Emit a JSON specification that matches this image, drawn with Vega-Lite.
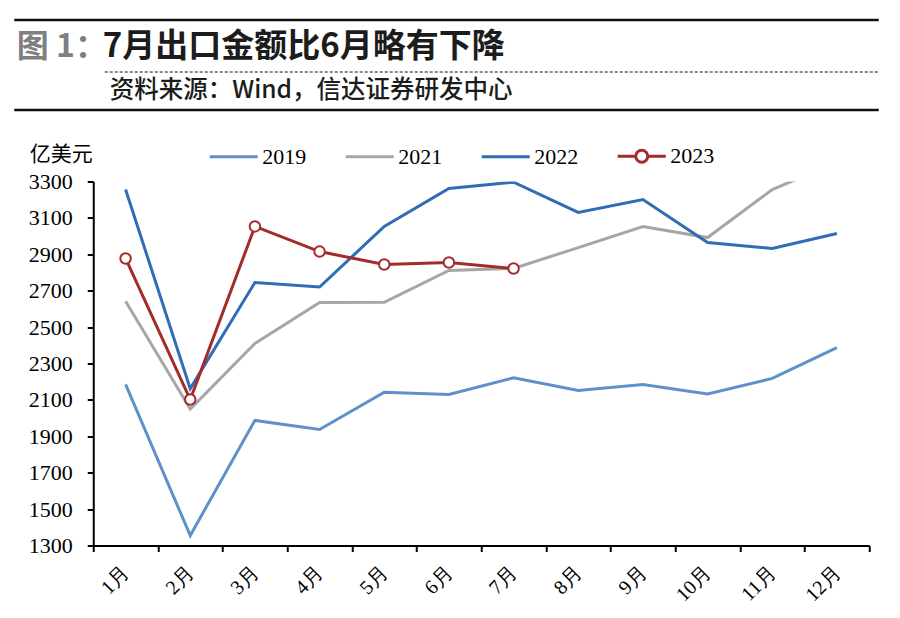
{
  "$schema": "https://vega.github.io/schema/vega-lite/v6.json",
  "width": 776,
  "height": 364,
  "padding": {"left": 16.25, "top": 19.5, "right": 16, "bottom": 6},
  "background": "white",
  "config": {
    "view": {"stroke": null},
    "font": "Liberation Serif",
    "axis": {"labelFont": "Liberation Serif", "labelFontWeight": "normal"},
    "axisX": {"labelFont": "Liberation Serif"},
    "axisY": {"labelFont": "Liberation Serif"}
  },
  "data": {
    "values": [
      {"year": "2019", "month": "1月", "value": 2185},
      {"year": "2019", "month": "2月", "value": 1355},
      {"year": "2019", "month": "3月", "value": 1987},
      {"year": "2019", "month": "4月", "value": 1937},
      {"year": "2019", "month": "5月", "value": 2142},
      {"year": "2019", "month": "6月", "value": 2130},
      {"year": "2019", "month": "7月", "value": 2221},
      {"year": "2019", "month": "8月", "value": 2152},
      {"year": "2019", "month": "9月", "value": 2185},
      {"year": "2019", "month": "10月", "value": 2132},
      {"year": "2019", "month": "11月", "value": 2218},
      {"year": "2019", "month": "12月", "value": 2387},
      {"year": "2021", "month": "1月", "value": 2642},
      {"year": "2021", "month": "2月", "value": 2050},
      {"year": "2021", "month": "3月", "value": 2410},
      {"year": "2021", "month": "4月", "value": 2635},
      {"year": "2021", "month": "5月", "value": 2636},
      {"year": "2021", "month": "6月", "value": 2811},
      {"year": "2021", "month": "7月", "value": 2822},
      {"year": "2021", "month": "8月", "value": 2937},
      {"year": "2021", "month": "9月", "value": 3053},
      {"year": "2021", "month": "10月", "value": 2992},
      {"year": "2021", "month": "11月", "value": 3256},
      {"year": "2021", "month": "12月", "value": 3405},
      {"year": "2022", "month": "1月", "value": 3256},
      {"year": "2022", "month": "2月", "value": 2162},
      {"year": "2022", "month": "3月", "value": 2745},
      {"year": "2022", "month": "4月", "value": 2720},
      {"year": "2022", "month": "5月", "value": 3053},
      {"year": "2022", "month": "6月", "value": 3262},
      {"year": "2022", "month": "7月", "value": 3296},
      {"year": "2022", "month": "8月", "value": 3130},
      {"year": "2022", "month": "9月", "value": 3201},
      {"year": "2022", "month": "10月", "value": 2965},
      {"year": "2022", "month": "11月", "value": 2932},
      {"year": "2022", "month": "12月", "value": 3014},
      {"year": "2023", "month": "1月", "value": 2877},
      {"year": "2023", "month": "2月", "value": 2102},
      {"year": "2023", "month": "3月", "value": 3053},
      {"year": "2023", "month": "4月", "value": 2915},
      {"year": "2023", "month": "5月", "value": 2844},
      {"year": "2023", "month": "6月", "value": 2855},
      {"year": "2023", "month": "7月", "value": 2822}
    ]
  },
  "resolve": {"scale": {"x": "independent"}, "axis": {"x": "independent"}},
  "layer": [
    {
      "encoding": {
        "x": {
          "field": "month",
          "type": "ordinal",
          "sort": ["1月", "2月", "3月", "4月", "5月", "6月", "7月", "8月", "9月", "10月", "11月", "12月"],
          "scale": {"type": "band", "paddingInner": 0, "paddingOuter": 0},
          "axis": {
            "title": null,
            "orient": "bottom",
            "tickBand": "extent",
            "grid": false,
            "domainColor": "black",
            "domainWidth": 2,
            "tickColor": "black",
            "tickWidth": 2,
            "tickSize": 6,
            "labelAngle": -45,
            "labelAlign": "right",
            "labelBaseline": "middle",
            "labelFont": "Liberation Serif",
            "labelFontSize": 20,
            "labelColor": "black",
            "labelPadding": 18
          }
        },
        "y": {
          "field": "value",
          "type": "quantitative",
          "scale": {"domain": [1300, 3300], "nice": false, "zero": false},
          "axis": {
            "title": "亿美元",
            "titleAngle": 0,
            "titleX": -64,
            "titleY": -27,
            "titleAlign": "left",
            "titleBaseline": "middle",
            "titleFont": "Noto Sans CJK SC",
            "titleFontSize": 21,
            "titleFontWeight": "normal",
            "titleColor": "black",
            "values": [1300, 1500, 1700, 1900, 2100, 2300, 2500, 2700, 2900, 3100, 3300],
            "format": "d",
            "labelOverlap": false,
            "grid": false,
            "domainColor": "black",
            "domainWidth": 2,
            "tickColor": "black",
            "tickWidth": 2,
            "tickSize": 6,
            "labelFont": "Liberation Serif",
            "labelFontSize": 22,
            "labelColor": "black",
            "labelPadding": 15
          }
        }
      },
      "layer": [
        {
          "mark": {"type": "line", "strokeWidth": 3, "clip": true},
          "encoding": {
            "color": {
              "field": "year",
              "type": "nominal",
              "scale": {"domain": ["2019", "2021", "2022", "2023"], "range": ["#5E90CC", "#A6A6A6", "#2F6DB5", "#A52A2A"]},
              "legend": {
                "title": null,
                "orient": "none",
                "legendX": 115,
                "legendY": -51,
                "direction": "horizontal",
                "symbolType": "stroke",
                "symbolSize": 2304,
                "symbolStrokeWidth": 3,
                "labelFont": "Liberation Serif",
                "labelFontSize": 22,
                "labelColor": "black",
                "labelOffset": 3,
                "columnPadding": 33,
                "padding": 0,
                "encode": {
                  "symbols": {
                    "update": {
                      "shape": {"signal": "datum.value === '2023' ? 'M-1,0H-0.25M0.25,0H1M-0.25,0A0.25,0.25,0,1,0,0.25,0A0.25,0.25,0,1,0,-0.25,0' : 'stroke'"},
                      "fill": {"value": "white"}
                    }
                  }
                }
              }
            }
          }
        },
        {
          "transform": [{"filter": "datum.year === '2023'"}],
          "mark": {"type": "point", "shape": "circle", "filled": true, "fill": "white", "stroke": "#A52A2A", "strokeWidth": 2, "size": 110, "opacity": 1}
        }
      ]
    },
    {
      "mark": {"type": "point", "opacity": 0, "size": 0},
      "encoding": {
        "x": {
          "datum": 0.5,
          "type": "quantitative",
          "scale": {"domain": [0, 1], "range": [-79.5, 785]},
          "axis": {
            "orient": "top", "offset": 162, "domain": true, "domainColor": "#111111", "domainWidth": 2.5,
            "ticks": false, "labels": false, "grid": false,
            "title": "图 1：", "titleX": -77, "titleY": 27, "titleAngle": 0, "titleAlign": "left", "titleBaseline": "middle",
            "titleFont": "Noto Sans CJK SC", "titleFontSize": 32, "titleFontWeight": "bold", "titleColor": "#7F7F7F"
          }
        }
      }
    },
    {
      "mark": {"type": "point", "opacity": 0, "size": 0},
      "encoding": {
        "x": {
          "datum": 0.5,
          "type": "quantitative",
          "scale": {"domain": [0, 1], "range": [11, 785]},
          "axis": {
            "orient": "top", "offset": 110, "domain": true, "domainColor": "#111111", "domainWidth": 1, "domainDash": [3, 2],
            "ticks": false, "labels": false, "grid": false,
            "title": "7月出口金额比6月略有下降", "titleX": 9, "titleY": -25, "titleAngle": 0, "titleAlign": "left", "titleBaseline": "middle",
            "titleFont": "Noto Sans CJK SC", "titleFontSize": 33, "titleFontWeight": "bold", "titleColor": "#1C1C1C"
          }
        }
      }
    },
    {
      "mark": {"type": "point", "opacity": 0, "size": 0},
      "encoding": {
        "x": {
          "datum": 0.5,
          "type": "quantitative",
          "scale": {"domain": [0, 1], "range": [-79.5, 785]},
          "axis": {
            "orient": "top", "offset": 72, "domain": true, "domainColor": "#111111", "domainWidth": 2.5,
            "ticks": false, "labels": false, "grid": false,
            "title": "资料来源：Wind，信达证券研发中心", "titleX": 16, "titleY": -19, "titleAngle": 0, "titleAlign": "left", "titleBaseline": "middle",
            "titleFont": "Noto Sans CJK SC", "titleFontSize": 24.5, "titleFontWeight": 500, "titleColor": "#1C1C1C"
          }
        }
      }
    }
  ]
}
